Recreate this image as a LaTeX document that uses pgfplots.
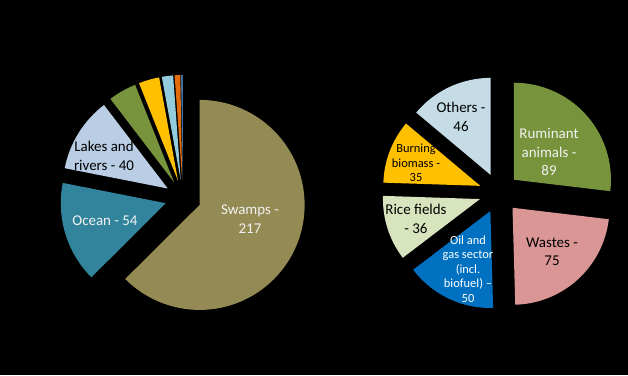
\documentclass[border=0pt]{standalone}
\usepackage{pgfplots}
\pgfplotsset{compat=1.18}
\usepackage{pgfplotstable}
\usepackage{fontspec}
\setmainfont{Carlito}

\definecolor{cSwamp}{HTML}{948A54}
\definecolor{cOcean}{HTML}{31849B}
\definecolor{cLakes}{HTML}{B9CDE5}
\definecolor{cGreen}{HTML}{77933C}
\definecolor{cYellow}{HTML}{FFC000}
\definecolor{cLBlue}{HTML}{93CDDD}
\definecolor{cOrange}{HTML}{E46C0A}
\definecolor{cDBlue}{HTML}{3F6DA0}
\definecolor{cWastes}{HTML}{D99694}
\definecolor{cOil}{HTML}{0070C0}
\definecolor{cRice}{HTML}{D7E4BD}
\definecolor{cOthers}{HTML}{C5DCE6}
\definecolor{cText}{HTML}{F2F2F2}

% natural sources
\pgfplotstableread{
label value color
Swamps 217 cSwamp
Ocean 54 cOcean
Lakes 40 cLakes
WildAnimals 15 cGreen
Termites 11 cYellow
Hydrates 6 cLBlue
Wildfires 3 cOrange
Permafrost 1 cDBlue
}\leftdata

% anthropogenic sources
\pgfplotstableread{
label value color
Ruminant 89 cGreen
Wastes 75 cWastes
Oil 50 cOil
Rice 36 cRice
Burning 35 cYellow
Others 46 cOthers
}\rightdata

% #1 table, #2 cx, #3 cy, #4 explode distance, #5 radius (bp), #6 total
\newcommand\drawpie[6]{%
  \pgfplotstablegetrowsof{#1}%
  \pgfmathtruncatemacro\nrows{\pgfplotsretval-1}%
  \def\cum{0}%
  \pgfplotsforeachungrouped \i in {0,...,\nrows}{%
    \pgfplotstablegetelem{\i}{value}\of{#1}\let\val\pgfplotsretval
    \pgfplotstablegetelem{\i}{color}\of{#1}\let\col\pgfplotsretval
    \pgfmathsetmacro\aa{90-(\cum/#6)*360}%
    \pgfmathsetmacro\cum{\cum+\val}%
    \pgfmathsetmacro\ab{90-(\cum/#6)*360}%
    \pgfmathsetmacro\am{(\aa+\ab)/2}%
    \pgfmathsetmacro\px{#2+#4*cos(\am)}%
    \pgfmathsetmacro\py{#3+#4*sin(\am)}%
    \edef\temp{\noexpand\fill[\col] (axis cs:\px,\py) -- ++(\aa:#5bp) arc[start angle=\aa, end angle=\ab, radius=#5bp] -- cycle;}%
    \temp
  }%
}

\begin{document}
\begin{tikzpicture}
\begin{axis}[
  hide axis, scale only axis, clip=false,
  x=1bp, y=1bp,
  xmin=0, xmax=628, ymin=0, ymax=375,
]
\fill[black] (axis cs:0,0) rectangle (axis cs:628,375);
\drawpie{\leftdata}{183}{177}{18}{105}{347}
\drawpie{\rightdata}{499}{182}{20}{97}{331}

\tikzset{big/.style={font=\fontsize{15}{18.5}\selectfont, align=center, inner sep=0pt},
         small/.style={font=\fontsize{12.5}{14.5}\selectfont, align=center, inner sep=0pt}}
% left labels
\node[big, text=cText] at (axis cs:250,156) {Swamps -\\217};
\node[big, text=cText] at (axis cs:105,154) {Ocean - 54};
\node[big, text=black] at (axis cs:104,219) {Lakes and\\rivers - 40};
% right labels
\node[big, text=cText] at (axis cs:549,223) {Ruminant\\animals -\\89};
\node[big, text=black] at (axis cs:552,123) {Wastes -\\75};
\node[small, text=white] at (axis cs:468,106) {Oil and\\gas sector\\(incl.\\biofuel) --\\50};
\node[big, text=black] at (axis cs:416,156) {Rice fields\\- 36};
\node[small, text=black] at (axis cs:416,212) {Burning\\biomass -\\35};
\node[big, text=black] at (axis cs:461,258) {Others -\\46};
\end{axis}
\end{tikzpicture}
\end{document}
